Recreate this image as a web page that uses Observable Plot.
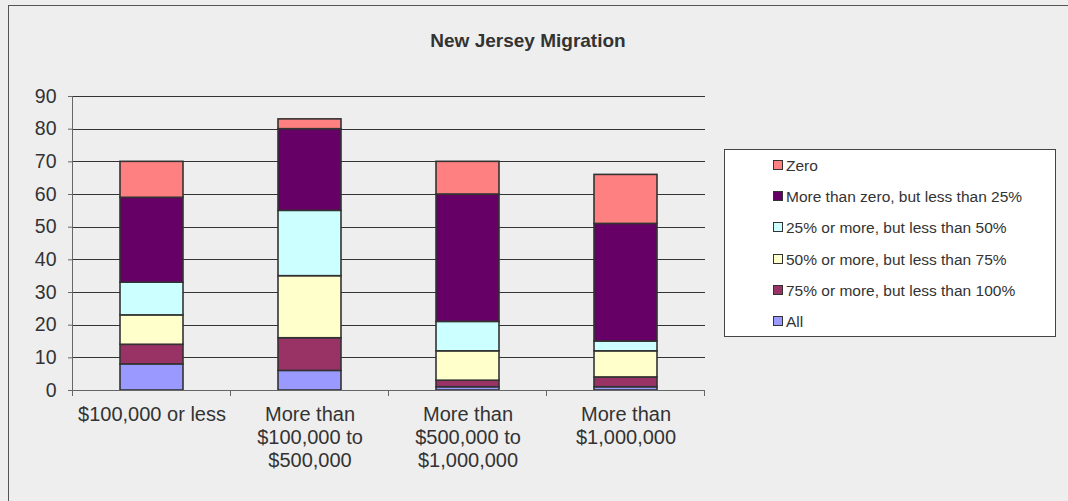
<!DOCTYPE html>
<html>
<head>
<meta charset="utf-8">
<script src="https://cdn.jsdelivr.net/npm/d3@7"></script>
<script src="https://cdn.jsdelivr.net/npm/@observablehq/plot@0.6"></script>
<style>
  html, body { margin: 0; padding: 0; background: #eeeeee; overflow: hidden; }
  #wrap { position: relative; width: 1068px; height: 501px; overflow: hidden; background: #eeeeee;
          font-family: "Liberation Sans", Arial, sans-serif; color: #333; }
  #frame { position: absolute; left: 8px; top: 5px; width: 1100px; height: 540px; border-left: 1px solid #555; border-top: 1px solid #555; box-sizing: border-box; }
  #title { position: absolute; left: 0; width: 1056px; top: 30px; text-align: center; font-size: 19px; font-weight: bold; color: #333; }
  #legend { position: absolute; left: 724px; top: 149px; width: 332px; height: 188px; box-sizing: border-box;
            border: 1px solid #444; background: #ffffff; }
  .item { position: absolute; left: 48px; font-size: 15.5px; color: #333; white-space: nowrap; line-height: 18px; }
  .sw { display: inline-block; width: 8px; height: 8px; border: 1px solid #333; margin-right: 3px; vertical-align: 1px; }
  #chart { position: absolute; left: 0; top: 0; }
</style>
</head>
<body>
<div id="wrap">
  <div id="frame"></div>
  <div id="chart"></div>
  <div id="title"></div>
  <div id="legend"></div>
</div>
<script>
const chartTitle = "New Jersey Migration";
const categories = ["$100,000 or less", "More than $100,000 to $500,000", "More than $500,000 to $1,000,000", "More than $1,000,000"];
const categoryLabels = ["$100,000 or less", "More than\n$100,000 to\n$500,000", "More than\n$500,000 to\n$1,000,000", "More than\n$1,000,000"];
const seriesNames = ["All", "75% or more, but less than 100%", "50% or more, but less than 75%", "25% or more, but less than 50%", "More than zero, but less than 25%", "Zero"];
const seriesColors = ["#9999ff", "#993366", "#ffffcc", "#ccffff", "#660066", "#ff8080"];
const valAll = [8, 6, 1, 1];
const val75to100 = [6, 10, 2, 3];
const val50to75 = [9, 19, 9, 8];
const val25to50 = [10, 20, 9, 3];
const valAbove0to25 = [26, 25, 39, 36];
const valZero = [11, 3, 10, 15];
const yTicks = [0, 10, 20, 30, 40, 50, 60, 70, 80, 90];

const seriesValues = [valAll, val75to100, val50to75, val25to50, valAbove0to25, valZero];
const data = [];
seriesNames.forEach((s, i) => categories.forEach((c, j) => data.push({cat: c, series: s, value: seriesValues[i][j]})));
const labelOf = new Map(categories.map((c, i) => [c, categoryLabels[i]]));

function axisLines(index, scales, values, dimensions) {
  const x = scales.x, y = scales.y;
  const bw = typeof x.bandwidth === "function" ? x.bandwidth() : x.bandwidth;
  const starts = categories.map(c => x(c));
  const step = starts[1] - starts[0];
  const gap = (step - bw) / 2;
  const bounds = starts.map(s => s - gap).concat([starts[starts.length - 1] + bw + gap]);
  const y0 = y(0), yTop = y(yTicks[yTicks.length - 1]);
  const g = d3.create("svg:g").attr("stroke", "#666").attr("stroke-width", 1).attr("shape-rendering", "crispEdges");
  g.append("line").attr("x1", bounds[0]).attr("x2", bounds[0]).attr("y1", yTop).attr("y2", y0 + 5);
  g.append("line").attr("x1", bounds[0]).attr("x2", bounds[bounds.length - 1]).attr("y1", y0).attr("y2", y0);
  bounds.forEach(b => g.append("line").attr("x1", b).attr("x2", b).attr("y1", y0).attr("y2", y0 + 6));
  return g.node();
}

const plot = Plot.plot({
  width: 1068,
  height: 501,
  marginLeft: 73,
  marginRight: 363,
  marginTop: 96,
  marginBottom: 111,
  style: {background: "transparent", fontFamily: "'Liberation Sans', Arial, sans-serif", fontSize: "19px", color: "#333"},
  x: {domain: categories, paddingInner: 0.6, paddingOuter: 0.3, label: null},
  y: {domain: [0, 90], label: null},
  color: {domain: seriesNames, range: seriesColors},
  marks: [
    Plot.ruleY(yTicks.filter(d => d > 0), {stroke: "#333", strokeWidth: 1, shapeRendering: "crispEdges"}),
    Plot.barY(data, {x: "cat", y: "value", fill: "series", order: seriesNames, stroke: "#333", strokeWidth: 1.6}),
    Plot.axisY({ticks: yTicks, tickSize: 5, tickPadding: 12, label: null, stroke: "#666", fontSize: 19.5}),
    Plot.axisX({tickSize: 0, tickPadding: 14, label: null, tickFormat: d => labelOf.get(d), lineHeight: 1.16, fontSize: 20}),
    axisLines
  ]
});
document.getElementById("chart").appendChild(plot);

document.getElementById("title").textContent = chartTitle;
const legend = document.getElementById("legend");
const rowTop = 7, rowStep = 31.2;
seriesNames.slice().reverse().forEach((name, k) => {
  const i = seriesNames.indexOf(name);
  const div = document.createElement("div");
  div.className = "item";
  div.style.top = (rowTop + k * rowStep) + "px";
  const sw = document.createElement("span");
  sw.className = "sw";
  sw.style.background = seriesColors[i];
  div.appendChild(sw);
  div.appendChild(document.createTextNode(name));
  legend.appendChild(div);
});
</script>
</body>
</html>
